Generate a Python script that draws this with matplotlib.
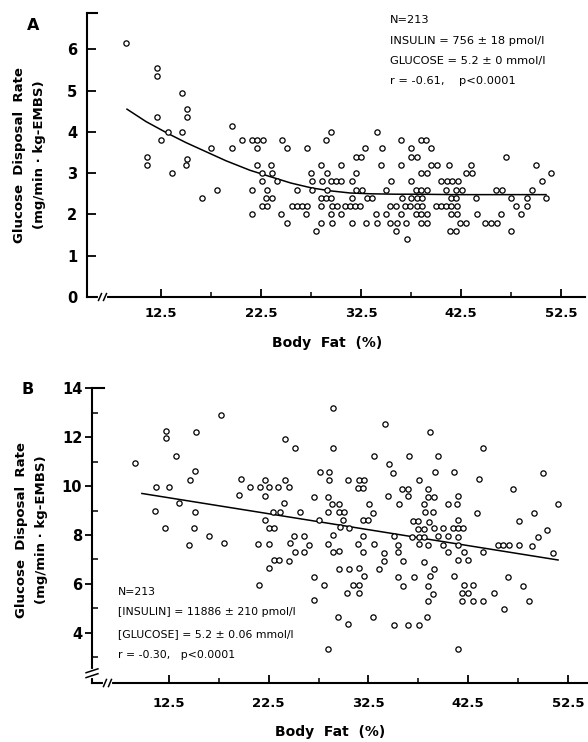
import matplotlib
matplotlib.use("Agg")
import matplotlib.pyplot as plt
from matplotlib.transforms import blended_transform_factory

plt.rcParams['font.family'] = ['DejaVu Sans']

# ---------------- data: panel A ----------------
a_x = [9.0, 12.1, 12.1, 14.6, 15.1, 15.1, 12.1, 19.6, 13.2, 14.6, 12.5, 17.5, 19.6, 20.6,
       21.6, 22.1, 22.1, 11.1, 11.1, 15.1, 15.0, 22.1, 13.6, 18.1, 16.6, 21.6, 21.6,
       29.5, 34.1,
       22.7, 24.6, 29.0, 36.5, 38.5, 39.0,
       25.1, 27.1, 32.9, 34.6, 37.5, 39.5,
       32.0, 32.5, 37.5, 38.1, 47.0,
       23.5, 28.5, 30.5, 34.5, 36.5, 39.5, 40.1, 41.3, 43.5, 50.0,
       22.6, 23.6, 27.5, 29.1, 32.0, 38.5, 39.1, 43.0, 43.6, 51.5,
       22.6, 24.1, 27.6, 28.6, 29.5, 30.0, 30.5, 31.6, 35.5, 37.5, 40.5, 41.1, 41.6, 42.2, 50.6,
       23.1, 26.1, 27.6, 29.1, 32.0, 32.6, 35.0, 38.0, 38.5, 39.1, 41.0, 42.0, 42.6, 46.0, 46.6, 49.6,
       23.0, 23.6, 28.5, 29.0, 29.5, 31.6, 33.1, 33.6, 36.6, 37.5, 38.1, 38.6, 41.5, 42.0, 44.0, 47.5,
       49.1, 51.0,
       22.6, 23.1, 25.6, 26.1, 26.6, 27.1, 28.5, 29.6, 30.1, 30.9, 31.4, 31.9, 32.4, 35.4, 36.0, 36.9,
       37.4, 38.1, 38.6, 40.0, 40.5, 41.0, 41.5, 42.1, 48.0, 49.1,
       24.5, 27.0, 29.5, 30.5, 34.0, 35.0, 36.5, 38.0, 38.5, 39.1, 41.5, 42.1, 44.1, 46.5, 48.5,
       25.1, 28.5, 29.6, 31.6, 33.0, 34.1, 35.4, 36.1, 37.0, 38.5, 39.1, 42.4, 43.0, 44.9, 45.5, 46.1,
       28.0, 36.0, 41.4, 42.0, 47.5,
       37.1]
a_y = [6.15, 5.55, 5.35, 4.95, 4.55, 4.35, 4.35, 4.15, 4.0, 4.0, 3.8, 3.6, 3.6, 3.8,
       3.8, 3.8, 3.6, 3.4, 3.2, 3.35, 3.2, 3.2, 3.0, 2.6, 2.4, 2.6, 2.0,
       4.0, 4.0,
       3.8, 3.8, 3.8, 3.8, 3.8, 3.8,
       3.6, 3.6, 3.6, 3.6, 3.6, 3.6,
       3.4, 3.4, 3.4, 3.4, 3.4,
       3.2, 3.2, 3.2, 3.2, 3.2, 3.2, 3.2, 3.2, 3.2, 3.2,
       3.0, 3.0, 3.0, 3.0, 3.0, 3.0, 3.0, 3.0, 3.0, 3.0,
       2.8, 2.8, 2.8, 2.8, 2.8, 2.8, 2.8, 2.8, 2.8, 2.8, 2.8, 2.8, 2.8, 2.8, 2.8,
       2.6, 2.6, 2.6, 2.6, 2.6, 2.6, 2.6, 2.6, 2.6, 2.6, 2.6, 2.6, 2.6, 2.6, 2.6, 2.6,
       2.4, 2.4, 2.4, 2.4, 2.4, 2.4, 2.4, 2.4, 2.4, 2.4, 2.4, 2.4, 2.4, 2.4, 2.4, 2.4,
       2.4, 2.4,
       2.2, 2.2, 2.2, 2.2, 2.2, 2.2, 2.2, 2.2, 2.2, 2.2, 2.2, 2.2, 2.2, 2.2, 2.2, 2.2,
       2.2, 2.2, 2.2, 2.2, 2.2, 2.2, 2.2, 2.2, 2.2, 2.2,
       2.0, 2.0, 2.0, 2.0, 2.0, 2.0, 2.0, 2.0, 2.0, 2.0, 2.0, 2.0, 2.0, 2.0, 2.0,
       1.8, 1.8, 1.8, 1.8, 1.8, 1.8, 1.8, 1.8, 1.8, 1.8, 1.8, 1.8, 1.8, 1.8, 1.8, 1.8,
       1.6, 1.6, 1.6, 1.6, 1.6,
       1.4]
a_fit_x = [9.1, 11.0, 13.2, 15.0, 17.0, 19.0, 21.4, 23.5, 25.5, 27.6, 29.5, 31.4, 33.5, 36.0,
           38.0, 42.0, 46.0, 51.0]
a_fit_y = [4.55, 4.25, 3.96, 3.74, 3.52, 3.30, 3.07, 2.91, 2.76, 2.64, 2.57, 2.52, 2.50, 2.49,
           2.49, 2.48, 2.48, 2.48]

# ---------------- data: panel B ----------------
b_x = [9.1, 17.7, 12.2, 12.2, 15.2, 13.2, 15.1, 14.6, 11.2, 12.5, 13.5, 11.1, 15.1, 12.1,
       15.0, 16.5, 14.5, 18.0, 24.1, 25.1, 19.7, 22.1, 24.1, 20.6, 21.6, 22.5, 23.4, 24.5,
       19.5, 22.1, 24.0, 22.9, 23.6, 25.6, 22.1, 22.5, 23.0, 25.0, 26.0, 21.4, 22.5, 24.6,
       26.5, 25.1, 26.0, 23.0, 23.5, 24.5, 22.5, 27.0, 28.0, 21.5, 27.0, 28.4, 27.6, 28.5,
       28.5, 27.0, 28.4, 28.8, 27.5, 28.4, 28.9, 28.9, 28.9, 28.4, 28.9,
       34.2, 38.65, 33.1, 36.6, 39.5, 44.0, 34.6, 35.0, 39.2, 41.1, 49.95, 30.5, 31.6, 32.1,
       37.55, 43.6, 31.5, 32.0, 35.9, 36.5, 38.5, 47.0, 34.5, 36.5, 38.45, 39.1, 41.5,
       29.5, 32.6, 35.6, 38.1, 40.5, 41.4, 51.5, 29.55, 30.1, 33.0, 38.2, 38.95, 43.4, 49.05,
       30.0, 32.0, 32.5, 37.0, 37.5, 38.55, 41.5, 47.55, 29.6, 30.6, 37.5, 38.1, 39.1, 40.0,
       41.0, 41.5, 42.0, 50.4, 32.0, 35.1, 36.9, 37.55, 38.1, 39.5, 40.5, 41.5, 49.5,
       31.5, 33.1, 35.5, 37.55, 38.5, 40.0, 41.5, 45.5, 46.0, 46.6, 47.55, 48.85, 51.0,
       29.55, 32.0, 34.1, 35.5, 40.5, 42.1, 44.0, 34.1, 36.0, 38.1, 41.5, 42.5,
       29.55, 30.55, 31.6, 33.6, 39.1, 32.1, 35.5, 37.1, 38.65, 41.05, 46.5,
       31.0, 31.6, 36.0, 38.45, 42.1, 43.0, 48.0, 30.4, 31.6, 39.0, 41.9, 42.5, 45.05,
       38.5, 41.9, 43.0, 44.0, 48.55, 46.1, 29.45, 32.95, 38.35, 30.5, 35.1, 36.5, 37.55,
       41.45]
b_y = [10.94, 12.90, 12.25, 11.96, 12.21, 11.23, 10.60, 10.24, 9.95, 9.95, 9.30, 8.97, 8.94, 8.30,
       8.28, 7.96, 7.60, 7.66, 11.92, 11.56, 10.30, 10.27, 10.27, 9.95, 9.95, 9.95, 9.95, 9.95,
       9.64, 9.60, 9.30, 8.94, 8.94, 8.93, 8.63, 8.30, 8.30, 7.96, 7.96, 7.62, 7.62, 7.66,
       7.60, 7.29, 7.29, 6.96, 6.96, 6.95, 6.66, 6.28, 5.97, 5.97, 5.34, 3.33, 10.58, 10.58,
       10.27, 9.57, 9.57, 9.28, 8.60, 8.94, 13.19, 11.56, 7.99, 7.62, 7.32,
       12.56, 12.23, 11.22, 11.25, 11.22, 11.54, 10.91, 10.55, 10.56, 10.58, 10.54, 10.27, 10.27, 10.27,
       10.24, 10.28, 9.93, 9.93, 9.90, 9.90, 9.90, 9.90, 9.61, 9.60, 9.57, 9.57, 9.58,
       9.27, 9.27, 9.26, 9.25, 9.27, 9.27, 9.27, 8.94, 8.94, 8.90, 8.93, 8.93, 8.90, 8.90,
       8.63, 8.63, 8.63, 8.59, 8.59, 8.55, 8.63, 8.59, 8.32, 8.30, 8.25, 8.25, 8.28, 8.28,
       8.28, 8.28, 8.28, 8.21, 7.96, 7.96, 7.93, 7.93, 7.93, 7.96, 7.96, 7.93, 7.92,
       7.65, 7.62, 7.60, 7.62, 7.58, 7.60, 7.60, 7.60, 7.60, 7.60, 7.58, 7.56, 7.25,
       7.35, 7.29, 7.28, 7.29, 7.32, 7.29, 7.29, 6.94, 6.94, 6.91, 6.98, 6.98,
       6.62, 6.62, 6.66, 6.60, 6.60, 6.33, 6.27, 6.27, 6.31, 6.31, 6.27,
       5.97, 5.97, 5.93, 5.90, 5.95, 5.95, 5.93, 5.65, 5.65, 5.60, 5.64, 5.64, 5.61,
       5.31, 5.31, 5.30, 5.30, 5.30, 4.97, 4.64, 4.64, 4.63, 4.35, 4.33, 4.33, 4.33,
       3.34]
b_fit_x = [9.8, 51.5]
b_fit_y = [9.70, 6.98]

x_ticks = [12.5, 22.5, 32.5, 42.5, 52.5]
x_tick_labels = ["12.5", "22.5", "32.5", "42.5", "52.5"]
x_minor = [17.5, 27.5, 37.5, 47.5]
a_yticks = [0, 1, 2, 3, 4, 5, 6]
b_yticks = [4, 6, 8, 10, 12, 14]
b_yminor = [3, 5, 7, 9, 11, 13]

W, H = 588, 742
fig = plt.figure(figsize=(W / 100, H / 100), dpi=100)


def fx(px):
    return px / W


def fy(py):
    return 1 - py / H


def style(ax):
    for s in ("top", "right"):
        ax.spines[s].set_visible(False)
    for s in ("left", "bottom"):
        ax.spines[s].set_linewidth(1.5)
    ax.set_xticks(x_ticks)
    ax.set_xticklabels(x_tick_labels)
    ax.set_xticks(x_minor, minor=True)
    ax.tick_params(axis="x", which="major", direction="in", length=6, width=1.3, pad=7,
                   labelsize=9.5)
    ax.tick_params(axis="x", which="minor", direction="in", length=3.5, width=1.1)
    for lab in ax.get_xticklabels() + ax.get_yticklabels():
        lab.set_fontweight("bold")


def xbreak(ax, x0, x1):
    tr = blended_transform_factory(ax.transData, ax.transAxes)
    ax.plot([x0, x1], [0, 0], color="white", lw=3, transform=tr, clip_on=False, zorder=5)
    for xb in (x0, x1):
        ax.plot([xb - 0.15, xb + 0.15], [-0.012, 0.012], color="black", lw=1.1,
                transform=tr, clip_on=False, zorder=6)


# ---------------- Panel A ----------------
axA = fig.add_axes([fx(87), fy(297), fx(585) - fx(87), fy(13) - fy(297)])
axA.set_xlim(5.1, 54.9)
axA.set_ylim(0, 6.88)
axA.plot(a_fit_x, a_fit_y, color="black", lw=1.1, zorder=2)
axA.plot(a_x, a_y, linestyle="none", marker="o", ms=3.8, mfc="white", mec="black",
         mew=0.9, zorder=3)
axA.set_yticks(a_yticks)
axA.tick_params(axis="y", which="major", direction="in", length=6.5, width=1.3, pad=7,
                labelsize=10.5)
style(axA)
xbreak(axA, 6.4, 6.9)
axA.plot([0, 0.02], [6.88, 6.88], color="black", lw=1.5,
         transform=blended_transform_factory(axA.transAxes, axA.transData), clip_on=False)

fig.text(fx(33), fy(25), "A", fontsize=11.5, fontweight="bold", ha="center", va="center")
ann_a = ["N=213", "INSULIN = 756 \u00b1 18 pmol/l", "GLUCOSE = 5.2 \u00b1 0 mmol/l",
         "r = -0.61,    p<0.0001"]
for txt, py in zip(ann_a, [20, 41, 61, 81]):
    fig.text(fx(390), fy(py), txt, fontsize=8.2, ha="left", va="center")
fig.text(fx(327), fy(343), "Body  Fat  (%)", fontsize=10, fontweight="bold",
         ha="center", va="center")
fig.text(fx(20), fy(155), "Glucose  Disposal  Rate", fontsize=9.5, fontweight="bold",
         rotation=90, ha="center", va="center")
fig.text(fx(40), fy(155), "(mg/min \u00b7 kg-EMBS)", fontsize=9.5, fontweight="bold",
         rotation=90, ha="center", va="center")

# ---------------- Panel B ----------------
axB = fig.add_axes([fx(92), fy(683), fx(587) - fx(92), fy(388.3) - fy(683)])
axB.set_xlim(4.8, 54.4)
axB.set_ylim(1.95, 14)
axB.plot(b_fit_x, b_fit_y, color="black", lw=1.1, zorder=2)
axB.plot(b_x, b_y, linestyle="none", marker="o", ms=3.8, mfc="white", mec="black",
         mew=0.9, zorder=3)
axB.set_yticks(b_yticks)
axB.set_yticks(b_yminor, minor=True)
axB.tick_params(axis="y", which="major", direction="out", length=5, width=1.3, pad=2,
                labelsize=10.5)
axB.tick_params(axis="y", which="minor", direction="in", length=4, width=1.1)
style(axB)
axB.tick_params(axis="x", which="major", pad=10)
xbreak(axB, 6.1, 6.6)
trB = blended_transform_factory(axB.transAxes, axB.transData)
axB.plot([0, 0.025], [14, 14], color="black", lw=1.5, transform=trB, clip_on=False)
axB.plot([0, 0], [2.25, 2.45], color="white", lw=3, transform=trB, clip_on=False, zorder=5)
for yb in (2.25, 2.45):
    axB.plot([-0.012, 0.012], [yb - 0.08, yb + 0.08], color="black", lw=1.1,
             transform=trB, clip_on=False, zorder=6)

fig.text(fx(28), fy(390), "B", fontsize=11.5, fontweight="bold", ha="center", va="center")
ann_b = ["N=213", "[INSULIN] = 11886 \u00b1 210 pmol/l", "[GLUCOSE] = 5.2 \u00b1 0.06 mmol/l",
         "r = -0.30,   p<0.0001"]
for txt, py in zip(ann_b, [592, 612, 634, 655]):
    fig.text(fx(118), fy(py), txt, fontsize=7.8, ha="left", va="center")
fig.text(fx(330), fy(732), "Body  Fat  (%)", fontsize=10, fontweight="bold",
         ha="center", va="center")
fig.text(fx(22), fy(530), "Glucose  Disposal  Rate", fontsize=9.5, fontweight="bold",
         rotation=90, ha="center", va="center")
fig.text(fx(42), fy(530), "(mg/min \u00b7 kg-EMBS)", fontsize=9.5, fontweight="bold",
         rotation=90, ha="center", va="center")

fig.savefig("out.png", dpi=100)
